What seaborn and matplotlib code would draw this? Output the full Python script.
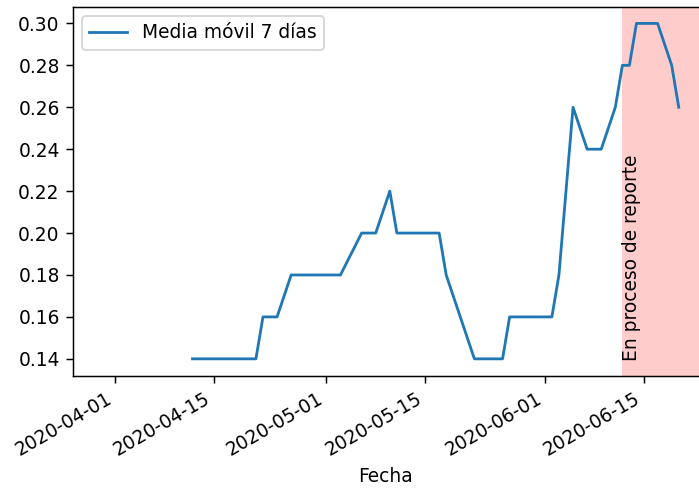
import numpy as np
import pandas as pd
import matplotlib
matplotlib.use("Agg")
import matplotlib.pyplot as plt
import matplotlib.dates as mdates
import seaborn as sns

# daily 7-day moving average, 2020-04-12 .. 2020-06-20
fechas = pd.date_range("2020-04-12", "2020-06-20", freq="D")
media_movil = [
    0.14, 0.14, 0.14, 0.14, 0.14, 0.14, 0.14, 0.14, 0.14, 0.14,   # 04-12..04-21
    0.16, 0.16, 0.16, 0.17,                                       # 04-22..04-25
    0.18, 0.18, 0.18, 0.18, 0.18, 0.18, 0.18, 0.18,               # 04-26..05-03
    0.1867, 0.1933, 0.20, 0.20, 0.20, 0.21, 0.22,                 # 05-04..05-10
    0.20, 0.20, 0.20, 0.20, 0.20, 0.20, 0.20,                     # 05-11..05-17
    0.18, 0.17, 0.16, 0.15,                                       # 05-18..05-21
    0.14, 0.14, 0.14, 0.14, 0.14,                                 # 05-22..05-26
    0.16, 0.16, 0.16, 0.16, 0.16, 0.16, 0.16,                     # 05-27..06-02
    0.18, 0.22, 0.26, 0.25, 0.24, 0.24, 0.24, 0.25, 0.26,         # 06-03..06-11
    0.28, 0.28, 0.30, 0.30, 0.30, 0.30, 0.29, 0.28, 0.26,         # 06-12..06-20
]
inicio_reporte = pd.Timestamp("2020-06-12")
fin_reporte = pd.Timestamp("2020-06-25")
x_inicio = pd.Timestamp("2020-03-26")
x_fin = pd.Timestamp("2020-06-22 21:00")

df = pd.DataFrame({"Fecha": fechas, "Media móvil 7 días": media_movil})

fig = plt.figure(figsize=(699 / 134, 491 / 134), dpi=134)
ax = fig.add_axes([0.104, 0.235, 0.896, 0.7515])

sns.lineplot(data=df, x="Fecha", y="Media móvil 7 días", ax=ax,
             color="tab:blue", linewidth=1.5, label="Media móvil 7 días")
ax.axvspan(inicio_reporte, fin_reporte, color="red", alpha=0.2, lw=0)
ax.text(inicio_reporte, 0.139, "En proceso de reporte", rotation=90,
        ha="left", va="bottom")

ax.set_xlim(x_inicio, x_fin)
ax.xaxis.set_major_locator(mdates.DayLocator(bymonthday=[1, 15]))
ax.xaxis.set_major_formatter(mdates.DateFormatter("%Y-%m-%d"))
plt.setp(ax.get_xticklabels(), rotation=30, ha="right")
ax.set_yticks([0.14, 0.16, 0.18, 0.20, 0.22, 0.24, 0.26, 0.28, 0.30])
ax.set_xlabel("Fecha")
ax.set_ylabel("")
ax.spines["right"].set_visible(False)
ax.legend(loc="upper left")

fig.savefig("out.png", dpi=134)
